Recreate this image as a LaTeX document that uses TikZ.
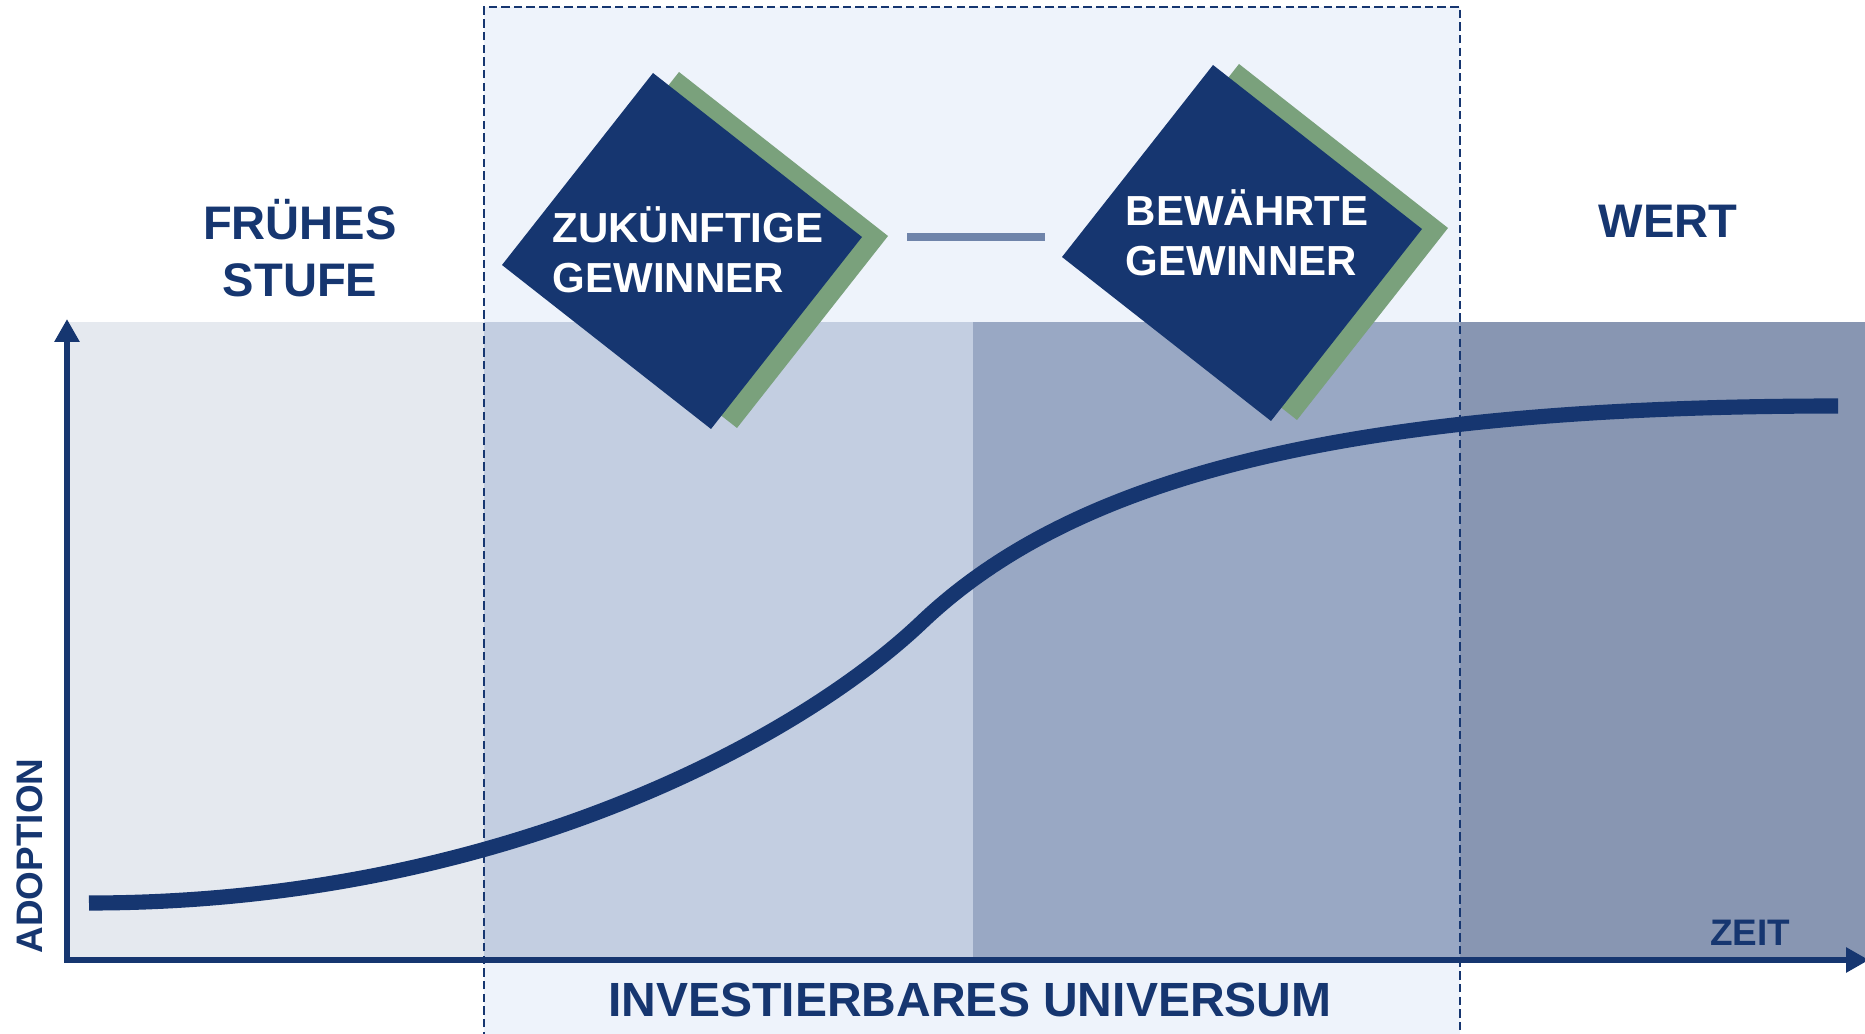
\documentclass[tikz,border=0pt]{standalone}
\usepackage{fontspec}
\setmainfont{Liberation Sans}
\usetikzlibrary{calc, arrows.meta, positioning}
\definecolor{n1}{RGB}{22, 54, 112}
\definecolor{g1}{RGB}{122, 161, 124}
\definecolor{l1}{RGB}{111, 132, 170}
\definecolor{s1}{HTML}{EEF3FB}
\definecolor{b1}{HTML}{E5E9EF}
\definecolor{b2}{HTML}{C3CEE1}
\definecolor{b3}{HTML}{99A8C4}
\definecolor{b4}{HTML}{8896B2}

\begin{document}
\begin{tikzpicture}[
		lbl/.style={font=\bfseries\fontsize{13.4}{16.2}\selectfont, text=n1, align=center, inner sep=0pt},
		gemtext/.style={font=\bfseries\fontsize{11.95}{14.3}\selectfont, text=white, align=left, inner sep=0pt},
		axis/.style={line width=1.85pt, draw=n1, {Triangle[width=2.4mm, length=2.3mm]}-{Triangle[width=2.4mm, length=2.3mm]}},
		zone/.style={draw=n1, line width=0.6pt, dash pattern=on 2.4pt off 1.2pt},
		link/.style={draw=l1, line width=2pt}
	]
		\useasboundingbox (-0.67, -0.73) rectangle (17.98, 9.60);
		
		\coordinate (O) at (0, 0);
		\coordinate (Ytop) at (0, 6.41);
		\coordinate (Xend) at (18.02, 0);
		
		% investierbarer bereich + stufen
		\fill[s1] (4.17, -0.8) rectangle (13.93, 9.53);
		\fill[b1] (0, 0) rectangle (4.17, 6.38);
		\fill[b2] (4.17, 0) rectangle (9.06, 6.38);
		\fill[b3] (9.06, 0) rectangle (13.93, 6.38);
		\fill[b4] (13.93, 0) rectangle (17.98, 6.38);
		
		\draw[n1, line width=4.3pt] (0.22, 0.57) .. controls (4.22, 0.57) and (7.25, 2.145) .. (8.55, 3.38) .. controls (10.05, 4.805) and (12.71, 5.54) .. (17.71, 5.54);
		
		\draw[axis] (Ytop) -- (O) -- (Xend);
		\draw[zone] (4.17, -0.8) -- (4.17, 9.53) -- (13.93, 9.53) -- (13.93, -0.8);
		
		\coordinate (ZG) at (6.15, 7.09);
		\coordinate (BG) at (11.75, 7.17);
		
		\begin{scope}[shift={(ZG)}]
			\fill[g1] (-0.03, 1.79) -- (2.06, 0.15) -- (0.55, -1.77) -- (-1.54, -0.13) -- cycle;
			\fill[n1] (-0.29, 1.78) -- (1.80, 0.14) -- (0.29, -1.78) -- (-1.80, -0.14) -- cycle;
			\coordinate (ZGr) at (2.06, 0.14);
		\end{scope}
		\begin{scope}[shift={(BG)}]
			\fill[g1] (-0.03, 1.79) -- (2.06, 0.15) -- (0.55, -1.77) -- (-1.54, -0.13) -- cycle;
			\fill[n1] (-0.29, 1.78) -- (1.80, 0.14) -- (0.29, -1.78) -- (-1.80, -0.14) -- cycle;
			\coordinate (BGl) at (-1.80, -0.14);
		\end{scope}
		
		\node[gemtext] (zg) at ($(ZG) + (0.06, 0.01)$) {ZUKÜNFTIGE\\GEWINNER};
		\node[gemtext] (bg) at ($(BG) + (0.05, 0.10)$) {BEWÄHRTE\\GEWINNER};
		\draw[link, shorten <=0.19cm, shorten >=0.17cm] (ZGr) -- (ZGr -| BGl);
		
		\node[lbl] (early) at (2.33, 7.12) {FRÜHES\\STUFE};
		\node[lbl] (value) at (16.01, 7.39) {WERT};
		\node[lbl, font=\bfseries\fontsize{13.66}{16}\selectfont] (univ) at (9.03, -0.395) {INVESTIERBARES UNIVERSUM};
		\node[lbl, font=\bfseries\fontsize{10.5}{12}\selectfont] (time) at (16.83, 0.27) {ZEIT};
		\node[lbl, font=\bfseries\fontsize{10.5}{12}\selectfont, rotate=90] (adopt) at (-0.375, 1.04) {ADOPTION};
	
	\end{tikzpicture}
\end{document}
